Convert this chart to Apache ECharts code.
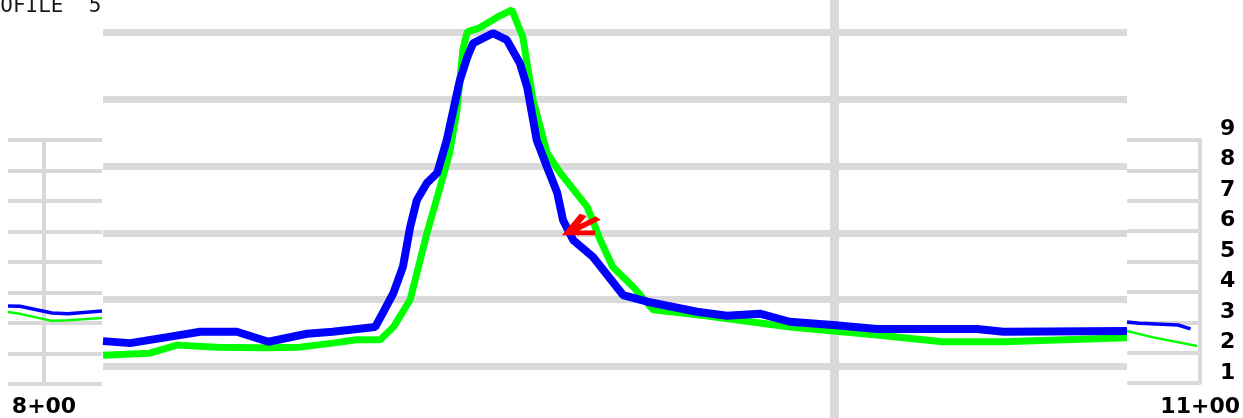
<!DOCTYPE html>
<html><head><meta charset="utf-8">
<script src="https://cdn.jsdelivr.net/npm/echarts@6/dist/echarts.min.js"></script>
<style>html,body{margin:0;padding:0;background:#fff;} #c{width:1243px;height:418px;}</style>
</head><body><div id="c"></div>
<script>
// ---- data ----
const titleText = 'PROFILE  5';
const yLabels = ['1','2','3','4','5','6','7','8','9'];

// main panel (stations in ft, values in grid units)
const blueStations = [900.0, 903.7, 908.8, 913.3, 918.3, 922.6, 927.9, 931.4, 937.2, 938.5, 939.7, 941.0, 942.0, 942.9, 944.3, 945.7, 947.0, 948.8, 949.8, 950.6, 953.3, 955.2, 957.0, 958.0, 959.3, 960.7, 962.1, 962.9, 964.3, 967.0, 971.1, 974.4, 981.2, 985.3, 989.8, 993.9, 999.8, 1005.8, 1019.5, 1023.1, 1040.0];
const blueValues = [0.38, 0.35, 0.44, 0.52, 0.52, 0.37, 0.49, 0.52, 0.59, 0.85, 1.10, 1.49, 2.09, 2.49, 2.75, 2.90, 3.39, 4.29, 4.63, 4.84, 4.99, 4.89, 4.54, 4.18, 3.39, 2.99, 2.60, 2.19, 1.89, 1.64, 1.07, 0.97, 0.82, 0.76, 0.79, 0.67, 0.62, 0.56, 0.56, 0.52, 0.53];
const greenStations = [900.0, 906.4, 910.1, 915.6, 921.9, 926.9, 931.4, 934.7, 937.9, 939.7, 942.0, 944.3, 946.1, 947.4, 948.4, 949.2, 949.8, 951.5, 953.9, 955.9, 957.4, 958.8, 960.7, 962.5, 966.2, 968.0, 969.7, 972.5, 975.2, 981.6, 993.9, 1005.8, 1014.8, 1023.1, 1040.0];
const greenValues = [0.17, 0.20, 0.32, 0.29, 0.28, 0.29, 0.35, 0.40, 0.40, 0.59, 1.00, 2.00, 2.69, 3.20, 3.84, 4.74, 5.01, 5.07, 5.23, 5.34, 4.93, 3.99, 3.20, 2.90, 2.39, 1.89, 1.49, 1.19, 0.85, 0.77, 0.59, 0.47, 0.37, 0.37, 0.43];
const arrowPoint = [963.6, 2.00];

// left overview panel
const leftStations = [782, 788, 804, 812, 829];
const leftBlue = [2.56, 2.55, 2.33, 2.30, 2.39];
const leftGreen = [2.36, 2.30, 2.07, 2.09, 2.16];

// right overview panel
const rightBlueStations = [1062, 1068.5, 1088.5, 1095];
const rightBlue = [2.01, 1.97, 1.91, 1.78];
const rightGreenStations = [1062, 1075, 1098.5];
const rightGreen = [1.71, 1.51, 1.22];

const leftTick = [800];
const rightTick = [1100];

// ---- chart ----
const GRID = '#d9d9d9';
const BLUE = '#0000ff';
const GREEN = '#00ff00';
const zip = (xs, ys) => xs.map((x, i) => [x, ys[i]]);
const fmtStation = v => Math.floor(v / 100) + '+' + String(Math.round(v % 100)).padStart(2, '0');
const labelFont = {fontFamily: 'DejaVu Sans', fontWeight: 'bold', fontSize: 22, color: '#000'};

const chart = echarts.init(document.getElementById('c'), null, {renderer: 'canvas'});
const mainX = (gi) => ({
  gridIndex: gi, type: 'value', min: 900, max: 1040, interval: 100,
  axisLine: {show: false}, axisTick: {show: false}, axisLabel: {show: false},
  splitLine: {show: true, showMinLine: false, showMaxLine: false, lineStyle: {color: GRID, width: 9}}
});
const option = {
  animation: false,
  backgroundColor: '#fff',
  graphic: [{
    type: 'text', x: -25, y: 6.5, z: 10,
    style: {text: titleText, fontSize: 21, fontFamily: 'DejaVu Sans Mono', fontWeight: 'normal',
            fill: '#1a1a1a', verticalAlign: 'middle', align: 'left'}
  }],
  grid: [
    {left: 103, top: 0, width: 1024, height: 366.5},
    {left: 103, top: 366.5, width: 1024, height: 51.5},
    {left: 8, top: 140, width: 94, height: 244},
    {left: 1127, top: 140, width: 76, height: 243.3},
    {left: 1127, top: 113.75, width: 76, height: 274.5}
  ],
  xAxis: [
    mainX(0),
    mainX(1),
    {gridIndex: 2, type: 'value', min: 782, max: 829,
     axisLine: {show: false}, axisTick: {show: false, customValues: leftTick},
     axisLabel: Object.assign({customValues: leftTick, formatter: fmtStation, margin: 12}, labelFont),
     splitLine: {show: true, lineStyle: {color: GRID, width: 4}}},
    {gridIndex: 3, type: 'value', min: 1062, max: 1100,
     axisLine: {show: false}, axisTick: {show: false, customValues: rightTick},
     axisLabel: Object.assign({customValues: rightTick, formatter: fmtStation, margin: 13, showMaxLabel: true}, labelFont),
     splitLine: {show: false}},
    {gridIndex: 4, type: 'value', show: false}
  ],
  yAxis: [
    {gridIndex: 0, type: 'value', min: 0, max: 5.487, interval: 1,
     axisLine: {show: false}, axisTick: {show: false}, axisLabel: {show: false},
     splitLine: {show: true, showMaxLine: false, lineStyle: {color: GRID, width: 7}}},
    {gridIndex: 1, type: 'value', show: false, splitLine: {show: false}},
    {gridIndex: 2, type: 'value', min: 0, max: 8, interval: 1,
     axisLine: {show: false}, axisTick: {show: false}, axisLabel: {show: false},
     splitLine: {show: true, lineStyle: {color: GRID, width: 4}}},
    {gridIndex: 3, type: 'value', min: 0, max: 8, interval: 1, position: 'right',
     axisLine: {show: true, lineStyle: {color: GRID, width: 4}}, axisTick: {show: false}, axisLabel: {show: false},
     splitLine: {show: true, lineStyle: {color: GRID, width: 4}}},
    {gridIndex: 4, type: 'category', data: yLabels, position: 'right',
     axisLine: {show: false}, axisTick: {show: false}, splitLine: {show: false},
     axisLabel: Object.assign({interval: 0, margin: 17, align: 'left'}, labelFont)}
  ],
  series: [
    {type: 'line', xAxisIndex: 0, yAxisIndex: 0, data: zip(greenStations, greenValues), symbol: 'none', z: 3,
     lineStyle: {color: GREEN, width: 7}},
    {type: 'line', xAxisIndex: 0, yAxisIndex: 0, data: zip(blueStations, blueValues), symbol: 'none', z: 4,
     lineStyle: {color: BLUE, width: 8}},
    {type: 'scatter', xAxisIndex: 0, yAxisIndex: 0, data: [arrowPoint], z: 6,
     symbol: 'path://M30 5 L0 20 M15 2 L0 20 L27 20', symbolSize: [30, 18], symbolOffset: [15, -9],
     itemStyle: {color: 'rgba(0,0,0,0)', borderColor: '#ff0000', borderWidth: 6, opacity: 1}},
    {type: 'line', xAxisIndex: 2, yAxisIndex: 2, data: zip(leftStations, leftGreen), symbol: 'none', z: 3,
     lineStyle: {color: GREEN, width: 2.5}},
    {type: 'line', xAxisIndex: 2, yAxisIndex: 2, data: zip(leftStations, leftBlue), symbol: 'none', z: 4,
     lineStyle: {color: BLUE, width: 3.5}},
    {type: 'line', xAxisIndex: 3, yAxisIndex: 3, data: zip(rightGreenStations, rightGreen), symbol: 'none', z: 3,
     lineStyle: {color: GREEN, width: 2.5}},
    {type: 'line', xAxisIndex: 3, yAxisIndex: 3, data: zip(rightBlueStations, rightBlue), symbol: 'none', z: 4,
     lineStyle: {color: BLUE, width: 3.5}}
  ]
};
chart.setOption(option);
</script>
</body></html>
